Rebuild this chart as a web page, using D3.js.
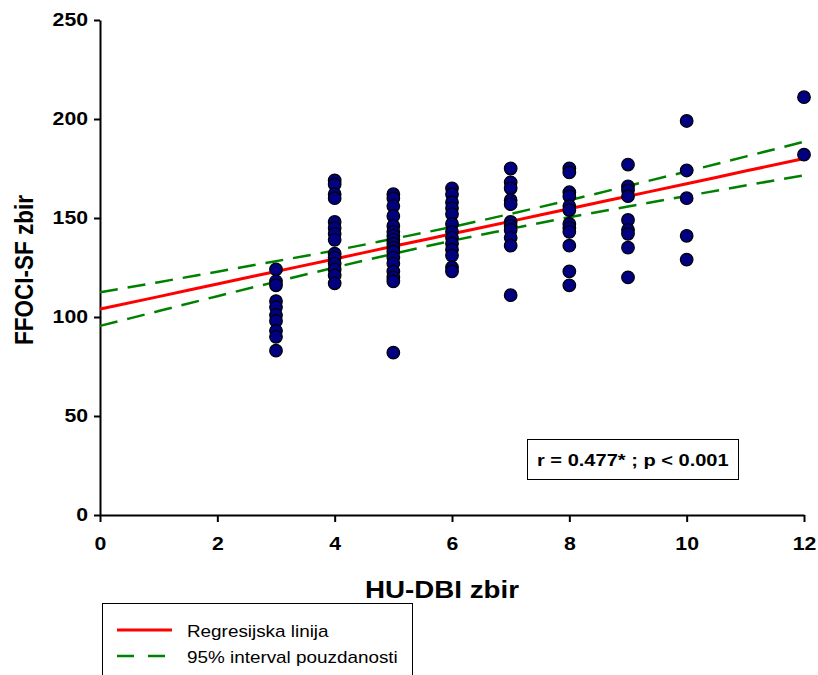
<!DOCTYPE html>
<html>
<head>
<meta charset="utf-8">
<script src="https://cdn.jsdelivr.net/npm/d3@7"></script>
<style>
  body { margin: 0; background: #fff; }
  text { font-family: "Liberation Sans", Arial, sans-serif; }
</style>
</head>
<body>
<div id="container"></div>
<script>
// HU-DBI score columns and the FFOCI-SF scores
const xGroups = [3, 4, 5, 6, 7, 8, 9, 10, 12];
const yByGroup = [
  [124, 118, 116, 108, 105, 101, 98, 93, 90, 83],
  [169, 167, 162, 160, 148, 145, 142, 139, 132, 130, 127, 124, 121, 117],
  [162, 160, 156, 151, 146, 143, 141, 139, 137, 135, 133, 130, 127, 123, 120, 118, 82],
  [165, 162, 158, 155, 152, 147, 143, 140, 137, 134, 131, 125, 123],
  [175, 168, 165, 159, 157, 148, 146, 144, 140, 136, 111],
  [175, 173, 163, 161, 156, 154, 147, 145, 143, 136, 123, 116],
  [177, 166, 164, 161, 149, 144, 142, 135, 120],
  [199, 174, 160, 141, 129],
  [211, 182]
];

// regression line and 95% band, read at integer x
const lineX = [0, 1, 2, 3, 4, 5, 6, 7, 8, 9, 10, 11, 12];
const fitY = [104, 110.3, 116.7, 123, 129.3, 135.7, 142, 148.3, 154.7, 161, 167.3, 173.7, 180];
const upperY = [112.5, 117.6, 122.9, 128.2, 133.6, 139.5, 145.5, 152.1, 159.0, 166.2, 173.5, 181.0, 188.5];
const lowerY = [95.5, 103.0, 110.5, 117.8, 125.0, 131.9, 138.5, 144.5, 150.4, 155.8, 161.1, 166.4, 171.5];

const xTicks = [0, 2, 4, 6, 8, 10, 12];
const yTicks = [0, 50, 100, 150, 200, 250];

const W = 818, H = 675;
const SX = 1.18; // the original text is a bit wider than normal
const svg = d3.select('#container').append('svg')
  .attr('width', W).attr('height', H);

// widen text horizontally around its own anchor point
function widen(sel) {
  sel.each(function () {
    const t = d3.select(this);
    const tx = +t.attr('x') || 0, ty = +t.attr('y') || 0;
    t.attr('x', 0).attr('y', 0)
      .attr('transform', `translate(${tx},${ty}) scale(${SX},1)`);
  });
}

const plotL = 100, plotR = 804, plotT = 20, plotB = 515;
const x = d3.scaleLinear().domain([0, 12]).range([plotL, plotR]);
const y = d3.scaleLinear().domain([0, 250]).range([plotB, plotT]);

// axes
const xAxis = svg.append('g')
  .attr('transform', `translate(0, ${plotB})`)
  .call(d3.axisBottom(x).tickValues(xTicks).tickSize(7).tickSizeOuter(0).tickPadding(15));
const yAxis = svg.append('g')
  .attr('transform', `translate(${plotL}, 0)`)
  .call(d3.axisLeft(y).tickValues(yTicks).tickSize(6).tickSizeOuter(0).tickPadding(6));

[xAxis, yAxis].forEach(a => {
  a.select('.domain').attr('stroke', '#000').attr('stroke-width', 2);
  a.selectAll('.tick line').attr('stroke', '#000').attr('stroke-width', 2);
  a.selectAll('.tick text')
    .attr('fill', '#000')
    .style('font-size', '18px')
    .style('font-weight', 'bold')
    .style('font-family', '"Liberation Sans", Arial, sans-serif')
    .call(widen);
});

// points
const pts = [];
xGroups.forEach((g, i) => yByGroup[i].forEach(v => pts.push({x: g, y: v})));

// lines (drawn under points)
const lineGen = d3.line()
  .x((d, i) => x(lineX[i]))
  .y(d => y(d))
  .curve(d3.curveMonotoneX);

svg.append('path')
  .attr('d', lineGen(upperY))
  .attr('fill', 'none').attr('stroke', '#008000')
  .attr('stroke-width', 2.5).attr('stroke-dasharray', '18,10');
svg.append('path')
  .attr('d', lineGen(lowerY))
  .attr('fill', 'none').attr('stroke', '#008000')
  .attr('stroke-width', 2.5).attr('stroke-dasharray', '18,10');
svg.append('path')
  .attr('d', lineGen(fitY))
  .attr('fill', 'none').attr('stroke', '#ff0000')
  .attr('stroke-width', 3);

svg.append('g').selectAll('circle')
  .data(pts)
  .enter()
  .append('circle')
  .attr('cx', d => x(d.x))
  .attr('cy', d => y(d.y))
  .attr('r', 6.3)
  .attr('fill', '#000080')
  .attr('stroke', '#000')
  .attr('stroke-width', 1.2);

// axis titles
svg.append('text')
  .attr('x', 442).attr('y', 598)
  .attr('text-anchor', 'middle')
  .style('font-size', '23.5px').style('font-weight', 'bold')
  .text('HU-DBI zbir')
  .call(widen);

svg.append('text')
  .attr('transform', `translate(33, 270) rotate(-90) scale(1,${SX})`)
  .attr('text-anchor', 'middle')
  .style('font-size', '22.5px').style('font-weight', 'bold')
  .text('FFOCI-SF zbir');

// stats box
svg.append('rect')
  .attr('x', 527.5).attr('y', 439.5).attr('width', 211).attr('height', 40)
  .attr('fill', '#fff').attr('stroke', '#000').attr('stroke-width', 1);
svg.append('text')
  .attr('x', 537).attr('y', 466)
  .style('font-size', '17px').style('font-weight', 'bold')
  .text('r = 0.477* ; p < 0.001')
  .call(widen);

// legend
const legend = svg.append('g');
legend.append('rect')
  .attr('x', 102.5).attr('y', 603.5).attr('width', 310).attr('height', 80)
  .attr('fill', '#fff').attr('stroke', '#000').attr('stroke-width', 1);
legend.append('line')
  .attr('x1', 117).attr('x2', 172).attr('y1', 630).attr('y2', 630)
  .attr('stroke', '#ff0000').attr('stroke-width', 3);
legend.append('line')
  .attr('x1', 117).attr('x2', 166).attr('y1', 656).attr('y2', 656)
  .attr('stroke', '#008000').attr('stroke-width', 2.5).attr('stroke-dasharray', '17,14');
legend.append('text')
  .attr('x', 187).attr('y', 637)
  .style('font-size', '16px')
  .text('Regresijska linija')
  .call(widen);
legend.append('text')
  .attr('x', 187).attr('y', 663)
  .style('font-size', '16px')
  .text('95% interval pouzdanosti')
  .call(widen);
</script>
</body>
</html>
